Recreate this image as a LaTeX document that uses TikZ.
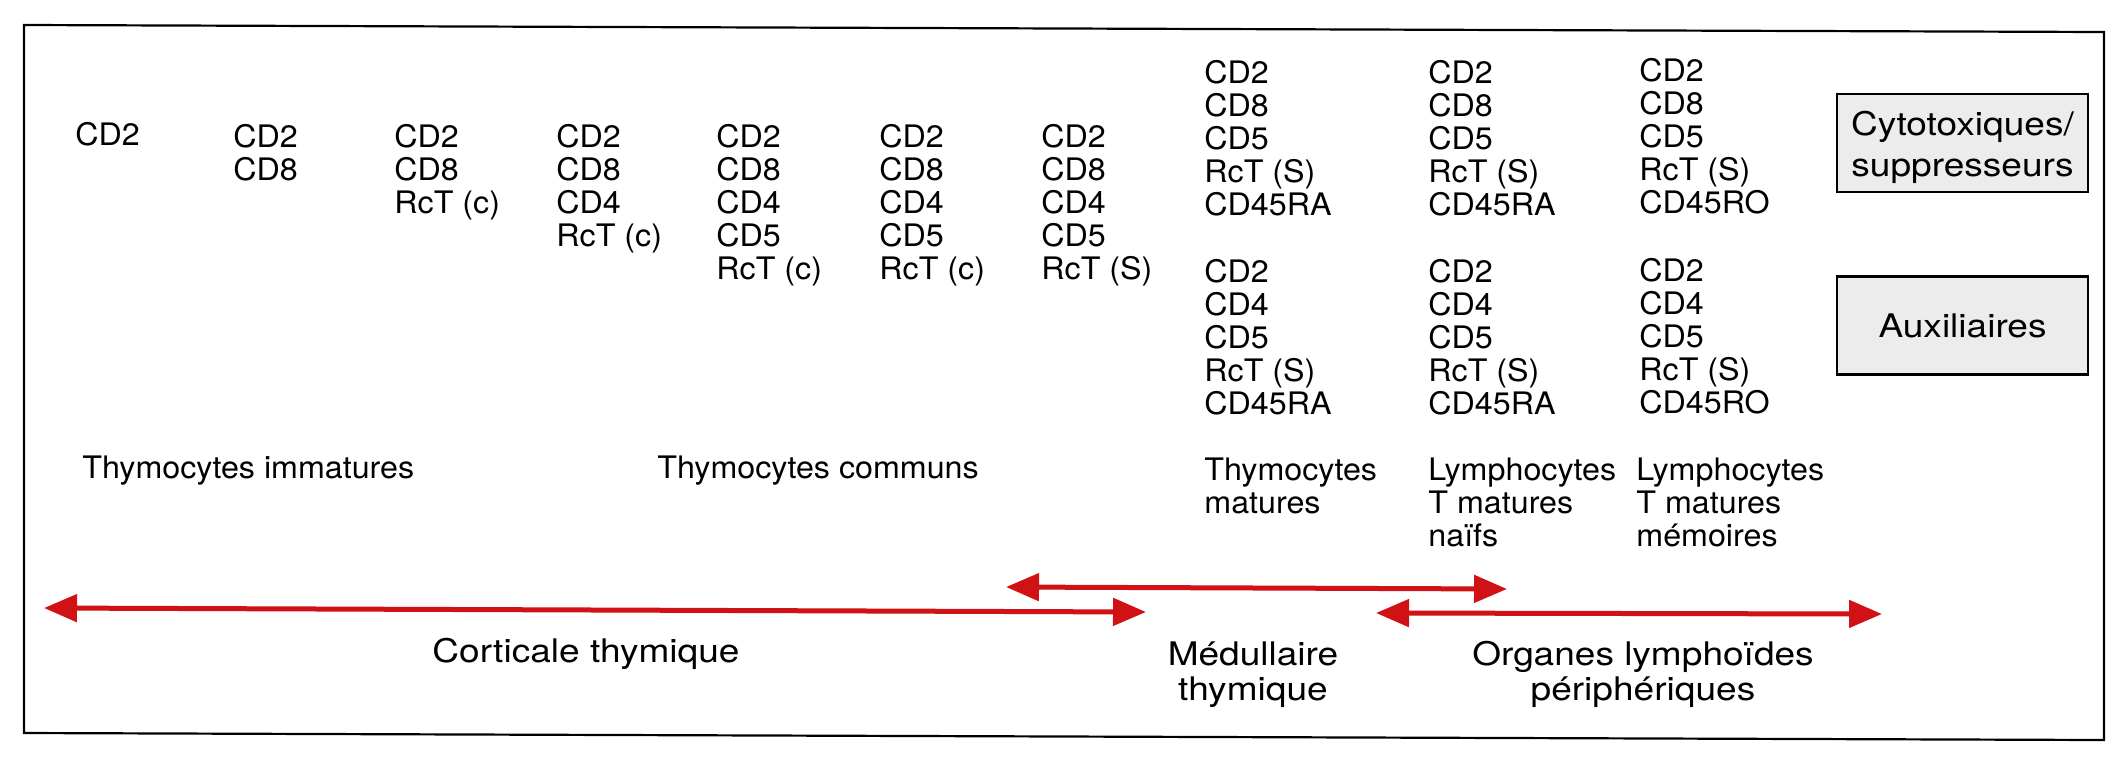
\documentclass[tikz,border=0pt]{standalone}
\usepackage{fontspec}
\usetikzlibrary{arrows.meta}
\newfontfamily\smallfam[FakeStretch=1.04]{TeX Gyre Heros}
\newfontfamily\bigfam[FakeStretch=1.14]{TeX Gyre Heros}
\newcommand\lstack[1]{\vtop{\halign{##\hfil\cr#1\crcr}}}
\newcommand\cstack[1]{\vtop{\halign{\hfil##\hfil\cr#1\crcr}}}
\definecolor{arrowred}{RGB}{208,18,22}
\definecolor{boxgray}{RGB}{236,236,236}
\tikzset{
  cdlist/.style={anchor=base west, inner sep=0pt, font={\smallfam\fontsize{15.5pt}{16.5pt}\selectfont}},
  sitelabel/.style={anchor=base, inner sep=0pt, font={\bigfam\fontsize{16.25pt}{17.5pt}\selectfont}},
  boxlabel/.style={anchor=base, inner sep=0pt, font={\bigfam\fontsize{16.25pt}{20.9pt}\selectfont}},
  typebox/.style={draw, line width=1.2pt, fill=boxgray, minimum width=125.5pt, minimum height=49pt, inner sep=0pt},
  rangearrow/.style={draw=arrowred, line width=2.5pt,
    {Triangle[length=16.5pt,width=13.5pt,fill=arrowred]}-{Triangle[length=16.5pt,width=13.5pt,fill=arrowred]}}
}
\begin{document}
\begin{tikzpicture}[x=0.5pt,y=-0.5pt]
\useasboundingbox (0,0) rectangle (2128,756);
\fill[white] (0,0) rectangle (2128,756);
% frame
\draw[line width=1.1pt] (24,25) -- (2104,32) -- (2104,740) -- (24,733) -- cycle;

% immature / common thymocyte columns
\node[cdlist] (c1) at (75,145) {\lstack{CD2}};
\node[cdlist] (c2) at (233,147) {\lstack{CD2\cr CD8}};
\node[cdlist] (c3) at (394,147) {\lstack{CD2\cr CD8\cr RcT (c)}};
\node[cdlist] (c4) at (556,147) {\lstack{CD2\cr CD8\cr CD4\cr RcT (c)}};
\node[cdlist] (c5) at (716,147) {\lstack{CD2\cr CD8\cr CD4\cr CD5\cr RcT (c)}};
\node[cdlist] (c6) at (879,147) {\lstack{CD2\cr CD8\cr CD4\cr CD5\cr RcT (c)}};
\node[cdlist] (c7) at (1041,147) {\lstack{CD2\cr CD8\cr CD4\cr CD5\cr RcT (S)}};

% mature columns, cytotoxic row
\node[cdlist] (m8a) at (1204,83) {\lstack{CD2\cr CD8\cr CD5\cr RcT (S)\cr CD45RA}};
\node[cdlist] (m9a) at (1428,83) {\lstack{CD2\cr CD8\cr CD5\cr RcT (S)\cr CD45RA}};
\node[cdlist] (m10a) at (1639,81) {\lstack{CD2\cr CD8\cr CD5\cr RcT (S)\cr CD45RO}};
% mature columns, helper row
\node[cdlist] (m8b) at (1204,282) {\lstack{CD2\cr CD4\cr CD5\cr RcT (S)\cr CD45RA}};
\node[cdlist] (m9b) at (1428,282) {\lstack{CD2\cr CD4\cr CD5\cr RcT (S)\cr CD45RA}};
\node[cdlist] (m10b) at (1639,281) {\lstack{CD2\cr CD4\cr CD5\cr RcT (S)\cr CD45RO}};

% boxes
\node[typebox] (cyto) at (1962.5,143) {};
\node[boxlabel] (cytotext) at (1962.5,135) {\cstack{Cytotoxiques/\cr suppresseurs}};
\node[typebox] (aux) at (1962.5,325.5) {};
\node[boxlabel] (auxtext) at (1962.5,337) {Auxiliaires};

% stage labels
\node[cdlist] (l1) at (82,478) {\lstack{Thymocytes immatures}};
\node[cdlist] (l2) at (657,478) {\lstack{Thymocytes communs}};
\node[cdlist] (l3) at (1204,480) {\lstack{Thymocytes\cr matures}};
\node[cdlist] (l4) at (1428,480) {\lstack{Lymphocytes\cr T matures\cr naïfs}};
\node[cdlist] (l5) at (1636,480) {\lstack{Lymphocytes\cr T matures\cr mémoires}};

% ranges
\coordinate (ca) at (44,608);
\coordinate (cb) at (1146,612);
\coordinate (ma) at (1006,587);
\coordinate (mb) at (1507,589);
\coordinate (oa) at (1376,613);
\coordinate (ob) at (1882,614);
\draw[rangearrow] (ca) -- (cb);
\draw[rangearrow] (ma) -- (mb);
\draw[rangearrow] (oa) -- (ob);

% site labels
\node[sitelabel] (cort) at (586,662) {Corticale thymique};
\node[sitelabel] (medu) at (1253,665) {\cstack{Médullaire\cr thymique}};
\node[sitelabel] (orga) at (1643,665) {\cstack{Organes lymphoïdes\cr périphériques}};
\end{tikzpicture}
\end{document}
